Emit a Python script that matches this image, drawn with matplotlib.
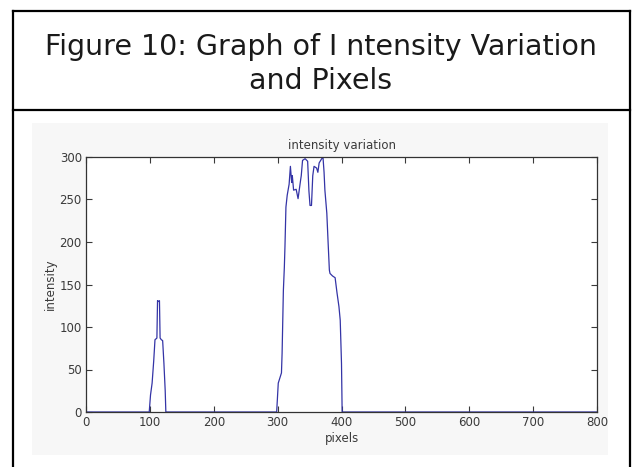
import matplotlib
matplotlib.use("Agg")
import matplotlib.pyplot as plt
from matplotlib.lines import Line2D
from matplotlib.patches import Rectangle

# intensity profile (pixel position, intensity)
pix_small = [0, 99, 101, 103.5, 106, 108, 111, 112, 113, 115, 116, 118, 120, 122, 124, 125]
val_small = [0, 0, 20, 34, 60, 85, 87, 131, 130, 131, 87, 85, 84, 57, 25, 0]

pix_big = [125, 298.5, 301, 306, 307, 309, 310.5, 311.5, 313, 315, 318, 320, 322, 323,
           325, 329, 332, 334, 336, 337, 339, 343, 347, 349, 350.7, 353, 355, 357,
           361, 363, 365, 369, 371, 372.7, 374, 377, 379, 381, 382, 386, 390, 393,
           396, 398, 400, 401, 800]
val_big = [0, 0, 34, 46, 69, 143, 170, 195, 241, 255, 268, 289, 270, 278,
           261, 262, 251, 262, 273, 278, 296, 298, 295, 260, 243, 243, 278, 289,
           287, 282, 293, 298, 300, 282, 261, 234, 200, 167, 163, 160, 158, 140,
           124, 108, 57, 0, 0]

x_ticks = [0, 100, 200, 300, 400, 500, 600, 700, 800]
y_ticks = [0, 50, 100, 150, 200, 250, 300]

title = "Figure 10: Graph of I ntensity Variation\nand Pixels"
line_col = "#3434a6"
tick_col = "#3a3a3a"

W, H = 632, 467
fig = plt.figure(figsize=(W / 100, H / 100), dpi=100)

def px(x, y):
    return x / W, 1 - y / H

# page box around the figure
for (x0, y0), (x1, y1) in [((13, 11), (630, 11)), ((13, 11), (13, 467)),
                           ((630, 11), (630, 467)), ((13, 110), (630, 110))]:
    a, b = px(x0, y0)
    c, d = px(x1, y1)
    fig.add_artist(Line2D([a, c], [b, d], color="k", lw=1.6))

# light grey backdrop of the embedded matlab figure
gx, gy = px(32, 455)
fig.add_artist(Rectangle((gx, gy), (608 - 32) / W, (455 - 123) / H,
                         facecolor="#f7f7f7", edgecolor="none", zorder=0))

tx, ty = px(321, 64)
fig.text(tx, ty, title, ha="center", va="center", fontsize=20.5,
         family="DejaVu Sans", color="#1a1a1a", linespacing=1.3)

ax = fig.add_axes([86 / W, 1 - 412 / H, 511 / W, 255 / H])
ax.plot(pix_small + pix_big, val_small + val_big, color=line_col, lw=0.9)
ax.set_xlim(0, 800)
ax.set_ylim(0, 300)
ax.set_xticks(x_ticks)
ax.set_yticks(y_ticks)
ax.tick_params(direction="in", top=True, right=True, length=4, width=0.8,
               labelsize=8.5, labelcolor=tick_col, colors=tick_col, pad=3)
for s in ax.spines.values():
    s.set_color("#333333")
    s.set_linewidth(0.9)
ax.set_title("intensity variation", fontsize=8.5, color=tick_col, pad=6)
ax.set_xlabel("pixels", fontsize=8.5, color=tick_col, labelpad=2)
ax.set_ylabel("intensity", fontsize=8.5, color=tick_col, labelpad=2)

fig.savefig("out.png", dpi=100)
